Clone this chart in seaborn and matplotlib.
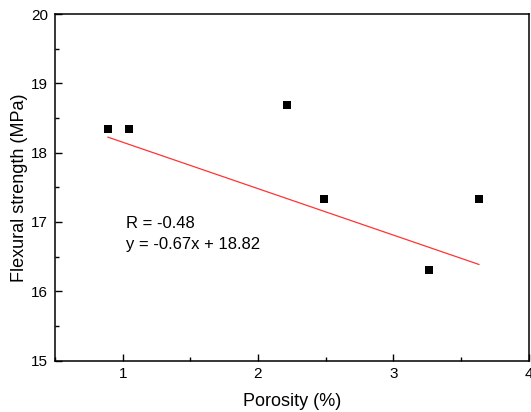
import numpy as np
import pandas as pd
import matplotlib
matplotlib.use("Agg")
import matplotlib.pyplot as plt
from matplotlib.ticker import MultipleLocator
import seaborn as sns

porosity = [0.89, 1.046, 2.214, 2.485, 3.265, 3.634]
strength = [18.34, 18.34, 18.68, 17.33, 16.31, 17.33]
slope = -0.67
intercept = 18.82
fit_x = [min(porosity), max(porosity)]
annot_lines = ["R = -0.48", "y = -0.67x + 18.82"]
x_label = "Porosity (%)"
y_label = "Flexural strength (MPa)"

sns.set_theme(style="ticks")
plt.rcParams['font.family'] = ['Liberation Sans', 'DejaVu Sans']

fig = plt.figure(figsize=(5.31, 4.12), dpi=100)
ax = fig.add_axes([55/531, (412-360.5)/412, (528.6-55)/531, (360.5-14)/412])

df = pd.DataFrame({"x": porosity, "y": strength})
fit_df = pd.DataFrame({"x": fit_x, "y": [slope*v + intercept for v in fit_x]})

sns.lineplot(data=fit_df, x="x", y="y", ax=ax, color="#ff3333", linewidth=0.9)
sns.scatterplot(data=df, x="x", y="y", ax=ax, marker="s", s=40, color="black",
                edgecolor="black", linewidth=0, zorder=3)

ax.set_xlim(0.5, 4)
ax.set_ylim(15, 20)
ax.xaxis.set_major_locator(MultipleLocator(1))
ax.xaxis.set_minor_locator(MultipleLocator(0.5))
ax.yaxis.set_major_locator(MultipleLocator(1))
ax.yaxis.set_minor_locator(MultipleLocator(0.5))
ax.tick_params(which="both", direction="in", top=False, right=False, colors="black",
               labelsize=11)
ax.tick_params(which="major", length=5, width=1, pad=5)
ax.tick_params(which="minor", length=3, width=1)
for sp in ax.spines.values():
    sp.set_visible(True)
    sp.set_color("black")
    sp.set_linewidth(1.1)

ax.set_xlabel(x_label, fontsize=13, color="black", labelpad=8)
ax.set_ylabel(y_label, fontsize=13, color="black", labelpad=2)

tx = 0.5 + (126 - 55) / 135.5
ax.text(tx, 15 + (360.5 - 224) / 69.3, annot_lines[0],
        fontsize=12, color="black", va="center", ha="left")
ax.text(tx, 15 + (360.5 - 245) / 69.3, annot_lines[1],
        fontsize=12, color="black", va="center", ha="left")

fig.savefig("out.png", dpi=100)
